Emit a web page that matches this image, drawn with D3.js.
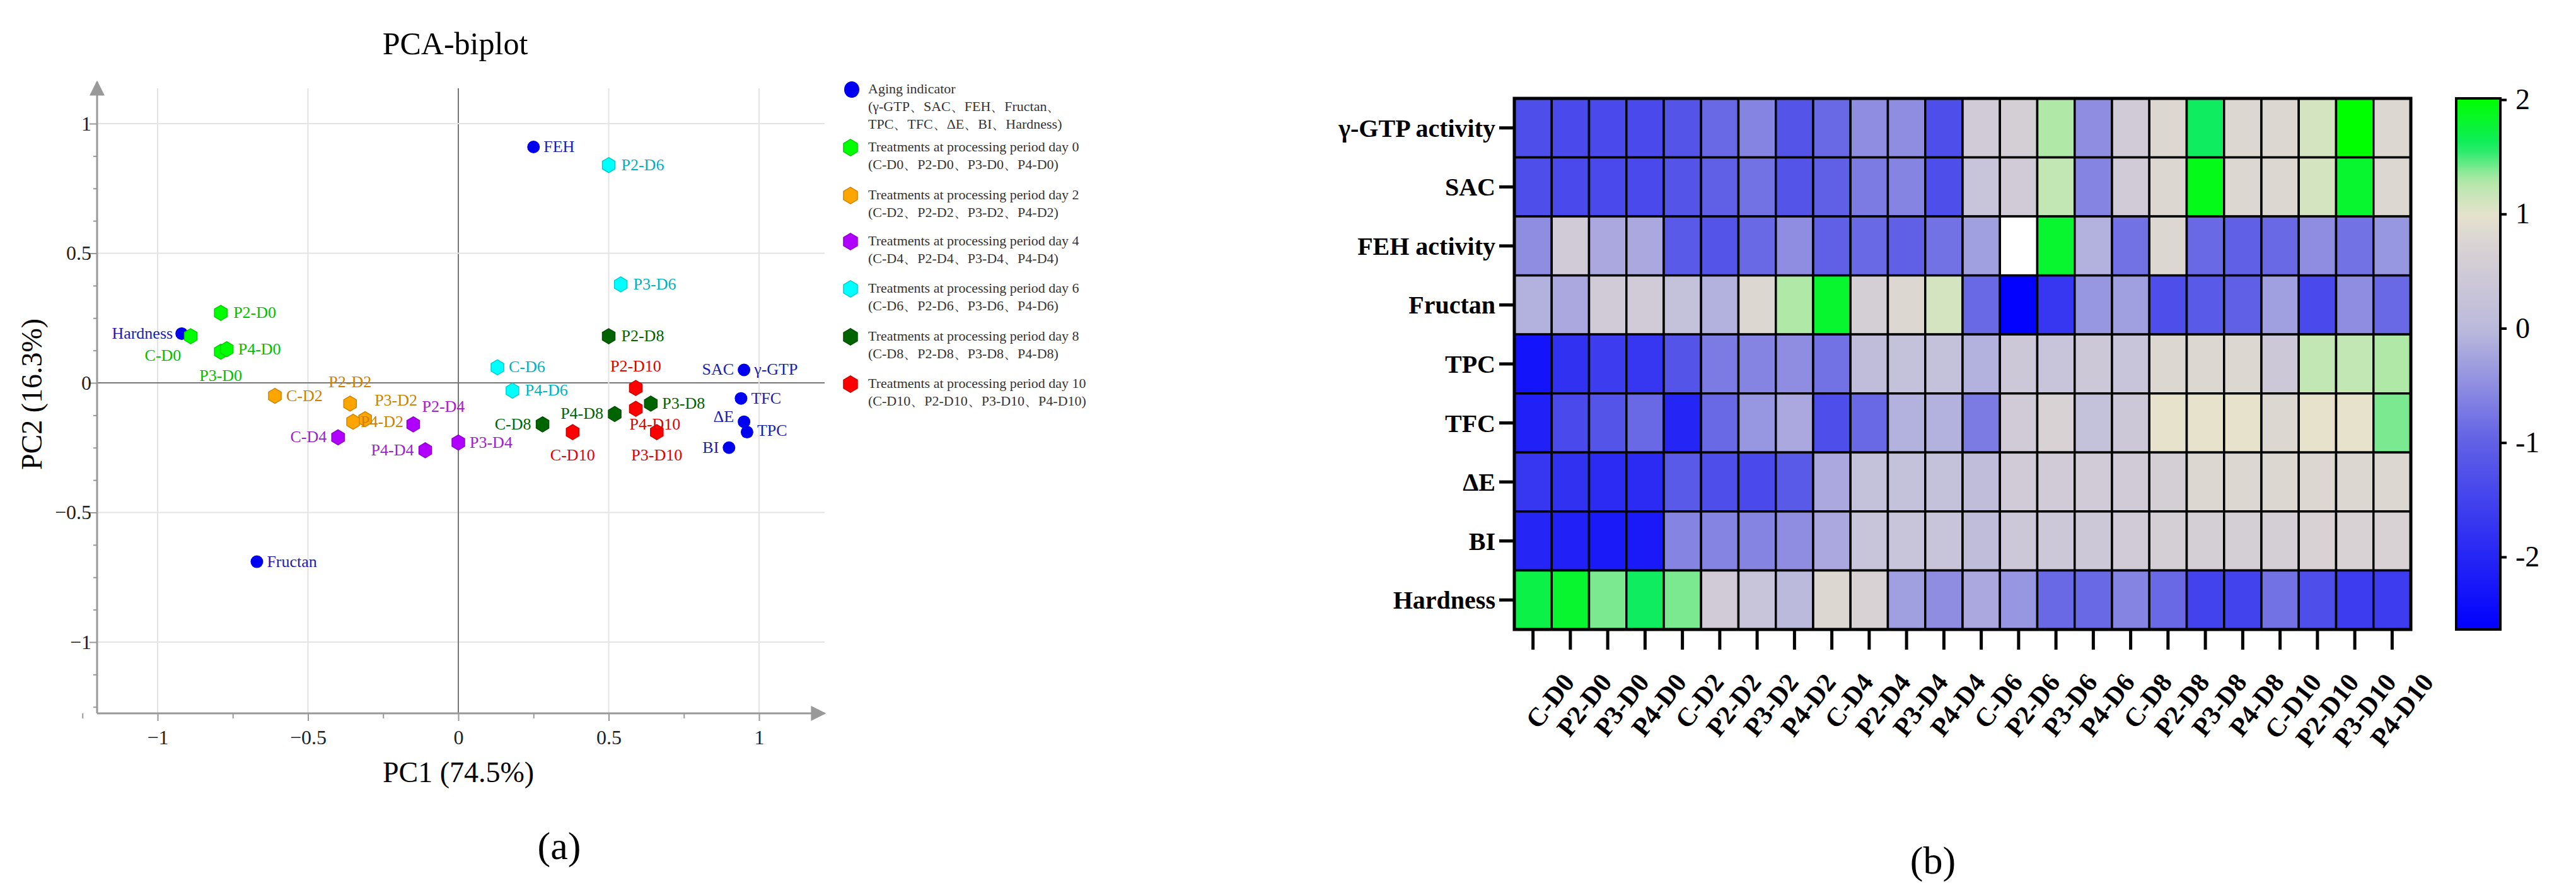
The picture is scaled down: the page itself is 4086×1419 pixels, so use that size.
<!DOCTYPE html>
<html><head><meta charset="utf-8">
<script src="https://cdn.jsdelivr.net/npm/d3@7"></script>
<style>body{margin:0;background:#fff}svg{font-family:"Liberation Serif","DejaVu Serif",serif}</style>
</head><body>
<svg id="chart" width="4086" height="1419"></svg>
<script>
// ---- panel (a) data: PCA biplot ----
var indicatorNames = ["Hardness", "FEH", "Fructan", "SAC", "γ-GTP", "TFC", "ΔE", "TPC", "BI"];
var indicatorPC1 = [-0.92, 0.25, -0.67, 0.95, 0.95, 0.94, 0.95, 0.96, 0.90];
var indicatorPC2 = [0.19, 0.91, -0.69, 0.05, 0.05, -0.06, -0.15, -0.19, -0.25];

var treatmentNames = ["C-D0", "P2-D0", "P3-D0", "P4-D0", "C-D2", "P2-D2", "P3-D2", "P4-D2",
    "C-D4", "P2-D4", "P3-D4", "P4-D4", "C-D6", "P2-D6", "P3-D6", "P4-D6",
    "C-D8", "P2-D8", "P3-D8", "P4-D8", "C-D10", "P2-D10", "P3-D10", "P4-D10"];
var treatmentPC1 = [-0.89, -0.79, -0.79, -0.77, -0.61, -0.36, -0.31, -0.35,
    -0.40, -0.15, 0.00, -0.11, 0.13, 0.50, 0.54, 0.18,
    0.28, 0.50, 0.64, 0.52, 0.38, 0.59, 0.66, 0.59];
var treatmentPC2 = [0.18, 0.27, 0.12, 0.13, -0.05, -0.08, -0.14, -0.15,
    -0.21, -0.16, -0.23, -0.26, 0.06, 0.84, 0.38, -0.03,
    -0.16, 0.18, -0.08, -0.12, -0.19, -0.02, -0.19, -0.10];
var pcaTicks = [-1, -0.5, 0, 0.5, 1];

var legendTitles = ["Aging indicator", "Treatments at processing period day 0", "Treatments at processing period day 2",
    "Treatments at processing period day 4", "Treatments at processing period day 6",
    "Treatments at processing period day 8", "Treatments at processing period day 10"];
var legendSubs = [["(γ-GTP、SAC、FEH、Fructan、", "TPC、TFC、ΔE、BI、Hardness)"],
    ["(C-D0、P2-D0、P3-D0、P4-D0)"], ["(C-D2、P2-D2、P3-D2、P4-D2)"], ["(C-D4、P2-D4、P3-D4、P4-D4)"],
    ["(C-D6、P2-D6、P3-D6、P4-D6)"], ["(C-D8、P2-D8、P3-D8、P4-D8)"], ["(C-D10、P2-D10、P3-D10、P4-D10)"]];

// ---- panel (b) data: heatmap ----
var heatRows = ["γ-GTP activity", "SAC", "FEH activity", "Fructan", "TPC", "TFC", "ΔE", "BI", "Hardness"];
var heatCols = treatmentNames;
var gtpVals = [-1.3, -1.4, -1.4, -1.4, -1.2, -0.9, -0.6, -1.2, -0.9, -0.5, -0.5, -1.3, 0.5, 0.6, 1.3, -0.5, 0.5, 0.8, 1.6, 0.8, 0.8, 1.1, 2.0, 0.8];
var sacVals = [-1.3, -1.4, -1.4, -1.4, -1.2, -1.0, -0.8, -1.2, -1.0, -0.7, -0.6, -1.3, 0.3, 0.5, 1.2, -0.6, 0.5, 0.8, 1.9, 0.8, 0.8, 1.1, 1.8, 0.8];
var fehVals = [-0.5, 0.5, -0.2, -0.2, -1.1, -1.2, -0.9, -0.5, -1.0, -0.9, -1.0, -0.8, -0.3, 3.0, 1.8, -0.1, -0.8, 0.8, -0.9, -1.0, -0.9, -0.5, -0.8, -0.4];
var fructanVals = [-0.1, -0.2, 0.5, 0.5, 0.2, -0.1, 0.8, 1.3, 1.8, 0.6, 0.8, 1.1, -0.9, -2.6, -1.7, -0.4, -0.3, -1.3, -1.1, -1.0, -0.3, -1.4, -0.5, -0.9];
var tpcVals = [-2.3, -1.8, -1.6, -1.7, -1.2, -0.7, -0.6, -0.5, -0.8, 0.1, 0.2, 0.2, -0.1, 0.4, 0.3, 0.4, 0.3, 0.8, 0.8, 0.8, 0.4, 1.2, 1.2, 1.3];
var tfcVals = [-2.1, -1.4, -1.2, -0.9, -2.0, -0.9, -0.4, -0.2, -1.3, -0.9, -0.1, -0.1, -0.7, 0.5, 0.7, 0.2, 0.4, 1.0, 1.0, 1.0, 0.8, 1.0, 1.0, 1.4];
var deVals = [-1.7, -1.8, -1.9, -1.9, -1.1, -1.3, -1.4, -1.1, -0.2, 0.2, 0.2, 0.2, 0.1, 0.5, 0.5, 0.5, 0.5, 0.6, 0.8, 0.8, 0.8, 0.8, 0.8, 0.8];
var biVals = [-2.0, -2.1, -2.2, -2.2, -0.6, -0.6, -0.6, -0.5, -0.2, 0.3, 0.3, 0.3, 0.1, 0.4, 0.4, 0.4, 0.5, 0.6, 0.6, 0.6, 0.6, 0.7, 0.7, 0.7];
var hardVals = [1.7, 1.8, 1.4, 1.6, 1.4, 0.5, 0.3, 0.0, 0.8, 0.7, -0.3, -0.5, -0.2, -0.4, -0.9, -0.9, -0.6, -0.9, -1.5, -1.5, -0.8, -1.3, -1.6, -1.6];
var heatTicks = [2, 1, 0, -1, -2];

var svg = d3.select("#chart");

// ================= panel (a) =================
var x = d3.scaleLinear().domain([-1, 1]).range([250, 1204]);
var y = d3.scaleLinear().domain([-1, 1]).range([1018, 196]);
var L = 154, R = 1308, T = 130, B = 1131;

var groupFill = ["#00ff00", "#ffa500", "#b000ff", "#00ffff", "#006400", "#ff0000"];
var groupText = ["#00c000", "#d08000", "#a020d0", "#00b0c0", "#006400", "#e00000"];
var blueFill = "#0000f0", blueText = "#1c1cb0";

var grid = svg.append("g");
pcaTicks.forEach(function(t) {
    grid.append("line").attr("x1", L).attr("x2", R).attr("y1", y(t)).attr("y2", y(t))
        .attr("stroke", t === 0 ? "#777" : "#e4e4e4").attr("stroke-width", 2);
    grid.append("line").attr("y1", T + 10).attr("y2", B).attr("x1", x(t)).attr("x2", x(t))
        .attr("stroke", t === 0 ? "#777" : "#e4e4e4").attr("stroke-width", 2);
});

// axes with arrows
svg.append("defs").append("marker").attr("id", "arr").attr("viewBox", "0 0 10 10")
    .attr("refX", 9).attr("refY", 5).attr("markerUnits", "userSpaceOnUse").attr("orient", "auto")
    .attr("markerWidth", 40).attr("markerHeight", 24)
    .append("path").attr("d", "M0,0 L10,5 L0,10 z").attr("fill", "#999");
svg.append("line").attr("x1", L).attr("x2", R).attr("y1", B).attr("y2", B)
    .attr("stroke", "#999").attr("stroke-width", 3).attr("marker-end", "url(#arr)");
svg.append("line").attr("x1", L).attr("x2", L).attr("y1", B).attr("y2", T)
    .attr("stroke", "#999").attr("stroke-width", 3).attr("marker-end", "url(#arr)");

function pcaFmt(d) { return pcaTicks.indexOf(d) >= 0 ? d3.format("")(d).replace("-", "−") : ""; }
var gx = svg.append("g").attr("transform", "translate(0," + B + ")")
    .call(d3.axisBottom(x).tickValues(d3.range(-1.25, 1.01, 0.25)).tickSize(8).tickFormat(pcaFmt));
var gy = svg.append("g").attr("transform", "translate(" + L + ",0)")
    .call(d3.axisLeft(y).tickValues(d3.range(-1.25, 1.01, 0.125)).tickSize(6).tickFormat(pcaFmt));
[gx, gy].forEach(function(g) {
    g.attr("font-family", null);
    g.select(".domain").remove();
    g.selectAll("line").attr("stroke", "#999").attr("stroke-width", 2);
    g.selectAll("text").attr("font-size", 32).attr("fill", "#222");
});
gy.selectAll(".tick").filter(function(d) { return pcaTicks.indexOf(d) >= 0; }).select("line").attr("x2", -12);
gx.selectAll(".tick").filter(function(d) { return pcaTicks.indexOf(d) >= 0; }).select("line").attr("y2", 12);
gx.selectAll("text").attr("dy", "1.2em");

svg.append("text").attr("x", 722).attr("y", 86).attr("text-anchor", "middle").attr("font-size", 50).text("PCA-biplot");
svg.append("text").attr("x", 727).attr("y", 1240).attr("text-anchor", "middle").attr("font-size", 46).text("PC1 (74.5%)");
svg.append("text").attr("transform", "translate(66,625) rotate(-90)").attr("text-anchor", "middle")
    .attr("font-size", 46).text("PC2 (16.3%)");

function hexPath(r) {
    var h = r * 1.2;
    return "M0," + (-h) + "L" + r + "," + (-h / 2) + "L" + r + "," + (h / 2) + "L0," + h +
        "L" + (-r) + "," + (h / 2) + "L" + (-r) + "," + (-h / 2) + "Z";
}

// label placement: [dx, dy, anchor]
var indicatorPlace = {
    "Hardness": [-14, 8, "end"], "FEH": [16, 8, "start"], "Fructan": [16, 8, "start"],
    "SAC": [-16, 8, "end"], "γ-GTP": [16, 8, "start"], "TFC": [16, 8, "start"],
    "ΔE": [-16, 0, "end"], "TPC": [16, 6, "start"], "BI": [-16, 8, "end"]
};
var treatPlace = {
    "C-D0": [-44, 39, "middle"], "P2-D0": [20, 8, "start"], "P3-D0": [0, 46, "middle"], "P4-D0": [18, 8, "start"],
    "C-D2": [18, 8, "start"], "P2-D2": [0, -26, "middle"], "P3-D2": [15, -22, "start"], "P4-D2": [12, 8, "start"],
    "C-D4": [-18, 8, "end"], "P2-D4": [14, -20, "start"], "P3-D4": [18, 8, "start"], "P4-D4": [-18, 8, "end"],
    "C-D6": [18, 8, "start"], "P2-D6": [20, 8, "start"], "P3-D6": [20, 8, "start"], "P4-D6": [20, 8, "start"],
    "C-D8": [-18, 8, "end"], "P2-D8": [20, 8, "start"], "P3-D8": [18, 8, "start"], "P4-D8": [-18, 8, "end"],
    "C-D10": [0, 45, "middle"], "P2-D10": [0, -26, "middle"], "P3-D10": [0, 45, "middle"], "P4-D10": [-10, 33, "start"]
};

var pts = svg.append("g");
indicatorNames.forEach(function(n, i) {
    if (n !== "γ-GTP")
        pts.append("circle").attr("cx", x(indicatorPC1[i])).attr("cy", y(indicatorPC2[i])).attr("r", 10).attr("fill", blueFill);
});
treatmentNames.forEach(function(n, i) {
    var gi = Math.floor(i / 4);
    pts.append("path").attr("d", hexPath(10))
        .attr("transform", "translate(" + x(treatmentPC1[i]) + "," + y(treatmentPC2[i]) + ")")
        .attr("fill", groupFill[gi]).attr("stroke", d3.color(groupFill[gi]).darker(0.6)).attr("stroke-width", 1.5);
});
indicatorNames.forEach(function(n, i) {
    var p = indicatorPlace[n];
    pts.append("text").attr("x", x(indicatorPC1[i]) + p[0]).attr("y", y(indicatorPC2[i]) + p[1])
        .attr("text-anchor", p[2]).attr("font-size", 26).attr("fill", blueText).text(n);
});
treatmentNames.forEach(function(n, i) {
    var p = treatPlace[n], gi = Math.floor(i / 4);
    pts.append("text").attr("x", x(treatmentPC1[i]) + p[0]).attr("y", y(treatmentPC2[i]) + p[1])
        .attr("text-anchor", p[2]).attr("font-size", 26).attr("fill", groupText[gi]).text(n);
});

// legend
var leg = svg.append("g").attr("font-size", 22).attr("fill", "#333");
var legY = [148, 240, 316, 389, 464, 540, 615];
legendTitles.forEach(function(t, i) {
    if (i === 0) leg.append("ellipse").attr("cx", 1351).attr("cy", legY[i] - 6).attr("rx", 12).attr("ry", 13).attr("fill", blueFill);
    else leg.append("path").attr("d", hexPath(11)).attr("transform", "translate(1349," + (legY[i] - 6) + ")")
        .attr("fill", groupFill[i - 1]).attr("stroke", d3.color(groupFill[i - 1]).darker(0.6)).attr("stroke-width", 1.5);
    leg.append("text").attr("x", 1377).attr("y", legY[i]).text(t);
    legendSubs[i].forEach(function(s, k) {
        leg.append("text").attr("x", 1377).attr("y", legY[i] + 28 * (k + 1)).text(s);
    });
});

svg.append("text").attr("x", 887).attr("y", 1362).attr("text-anchor", "middle").attr("font-size", 62).text("(a)");

// ================= panel (b) =================
var heatVals = [gtpVals, sacVals, fehVals, fructanVals, tpcVals, tfcVals, deVals, biVals, hardVals];
var hx = d3.scaleBand().domain(heatCols).range([2402, 3824]);
var hy = d3.scaleBand().domain(heatRows).range([156, 998]);
var color = d3.scaleLinear()
    .domain([-2.64, -1, 0, 0.7, 1, 1.3, 1.6, 2])
    .range(["#0000ff", "#6060e6", "#bcbadc", "#d8d2d4", "#e6e2cc", "#b0e8a8", "#10ec60", "#00ff00"])
    .clamp(true);
function cellColor(v) { return v > 2.5 ? "#ffffff" : color(v); }

var hm = svg.append("g");
heatRows.forEach(function(r, ri) {
    heatCols.forEach(function(c, ci) {
        hm.append("rect").attr("x", hx(c)).attr("y", hy(r)).attr("width", hx.bandwidth()).attr("height", hy.bandwidth())
            .attr("fill", cellColor(heatVals[ri][ci])).attr("stroke", "#000").attr("stroke-width", 3.5);
    });
});
hm.append("rect").attr("x", 2402).attr("y", 156).attr("width", 3824 - 2402).attr("height", 998 - 156)
    .attr("fill", "none").attr("stroke", "#000").attr("stroke-width", 5);

var ghy = svg.append("g").attr("transform", "translate(2400,0)").call(d3.axisLeft(hy).tickSize(22).tickPadding(6));
ghy.attr("font-family", null);
ghy.select(".domain").remove();
ghy.selectAll("line").attr("stroke", "#000").attr("stroke-width", 5);
ghy.selectAll("text").attr("font-size", 40).attr("font-weight", "bold").attr("fill", "#000").attr("dy", "0.35em");

var ghx = svg.append("g").attr("transform", "translate(0,1000)").call(d3.axisBottom(hx).tickSize(30).tickPadding(6));
ghx.attr("font-family", null);
ghx.select(".domain").remove();
ghx.selectAll("line").attr("stroke", "#000").attr("stroke-width", 5);
ghx.selectAll("text").attr("font-size", 42).attr("font-weight", "bold").attr("fill", "#000")
    .attr("text-anchor", "end").attr("transform", "translate(16,42) rotate(-52)").attr("dy", "0.7em");

// colour bar
var cb = d3.scaleLinear().domain([2, -2]).range([158, 883]);
var cbBottom = 998, cbTop = 156;
var grad = svg.select("defs").append("linearGradient").attr("id", "cbg").attr("x1", 0).attr("x2", 0).attr("y1", 0).attr("y2", 1);
d3.range(0, 1.001, 0.02).forEach(function(f) {
    var v = cb.invert(cbTop + f * (cbBottom - cbTop));
    grad.append("stop").attr("offset", f).attr("stop-color", color(v));
});
svg.append("rect").attr("x", 3896).attr("y", cbTop).attr("width", 70).attr("height", cbBottom - cbTop)
    .attr("fill", "url(#cbg)").attr("stroke", "#000").attr("stroke-width", 4);
var gcb = svg.append("g").attr("transform", "translate(3966,0)")
    .call(d3.axisRight(cb).tickValues(heatTicks).tickSize(10).tickPadding(14).tickFormat(d3.format("d")));
gcb.attr("font-family", null);
gcb.select(".domain").remove();
gcb.selectAll("line").attr("stroke", "#000").attr("stroke-width", 4);
gcb.selectAll("text").attr("font-size", 46).attr("fill", "#000").text(function(d) { return String(d); });

svg.append("text").attr("x", 3066).attr("y", 1385).attr("text-anchor", "middle").attr("font-size", 62).text("(b)");
</script>
</body></html>
